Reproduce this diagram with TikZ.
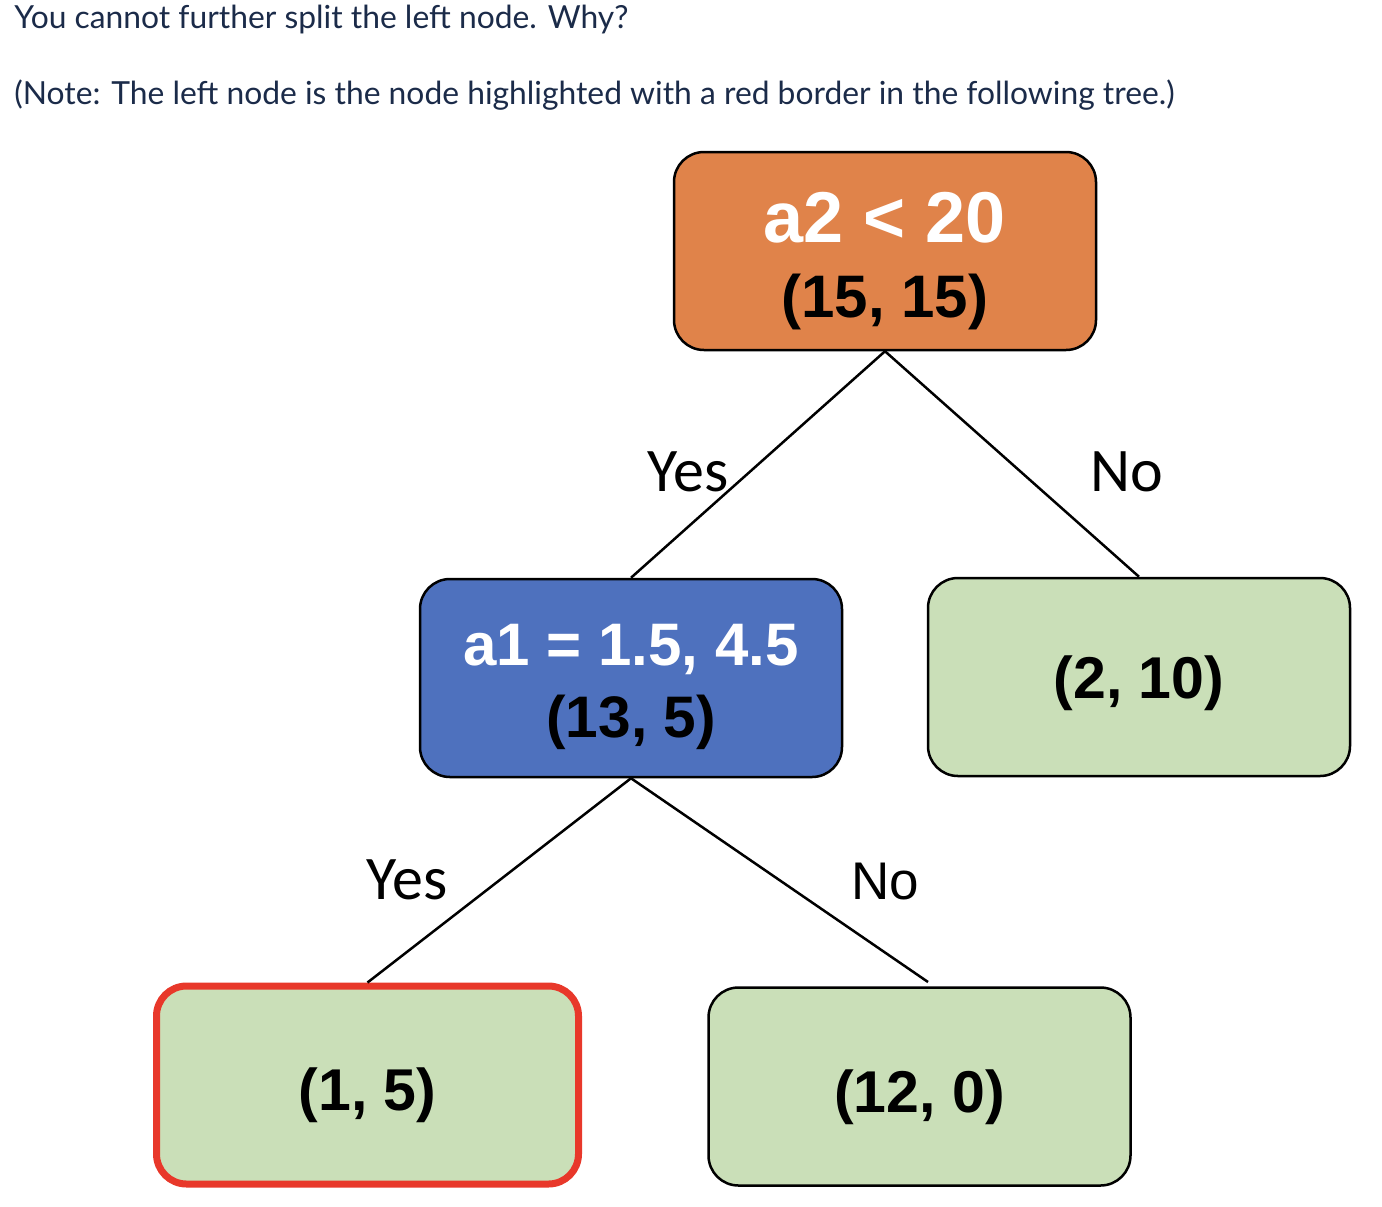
\documentclass[tikz,border=0pt]{standalone}
\usepackage{fontspec}
\setmainfont{Liberation Sans}
\newfontfamily\lblfont{Carlito}
\newfontfamily\notefont{Lato}
\definecolor{splitorange}{HTML}{E0834A}
\definecolor{splitblue}{HTML}{4E71BE}
\definecolor{leafgreen}{HTML}{CADFB8}
\definecolor{hilitered}{HTML}{E8382A}
\definecolor{notenavy}{HTML}{1B2B49}
\tikzset{
	box/.style={draw=black, line width=1.25pt, rounded corners=15pt,
		minimum width=211pt, minimum height=99pt, inner sep=0pt, align=center,
		font=\fontsize{29.5}{37}\selectfont\bfseries},
	split/.style={box, text height=#1},
	leaf/.style={box, fill=leafgreen, text height=#1},
	ans/.style={font=\lblfont\fontsize{31}{31}\selectfont},
	note/.style={anchor=base west, inner sep=0pt, text=notenavy,
		font=\notefont\fontsize{15.9}{18}\selectfont},
	branch/.style={line width=1.25pt}
}
\begin{document}
\begin{tikzpicture}[x=0.5pt, y=-0.5pt]
	\useasboundingbox (0,0) rectangle (1382,1206);

	\node[note] (why) at (14,28) {You cannot further split the left node. Why?};
	\node[note] (hint) at (14,104) {(Note: The left node is the node highlighted with a red border in the following tree.)};

	\node[split=73pt, fill=splitorange, font=\fontsize{30}{37.5}\selectfont\bfseries] (a2) at (885,251)
		{{\color{white}\fontsize{36}{37.5}\selectfont a2 < 20}\\(15, 15)};
	\node[split=66pt, fill=splitblue, font=\fontsize{29.3}{36}\selectfont\bfseries] (a1) at (631,678)
		{{\color{white}\fontsize{30}{36}\selectfont a1 = 1.5, 4.5}\\(13, 5)};
	\node[leaf=28pt] (r) at (1139,677) {(2, 10)};
	\node[leaf=31.5pt, draw=hilitered, line width=3.5pt] (ll) at (367.5,1085) {(1, 5)};
	\node[leaf=32pt] (lr) at (919.5,1086.5) {(12, 0)};
	\coordinate (lrtop) at (928,982);

	\draw[branch] (a2.south) -- (a1.north);
	\draw[branch] (a2.south) -- (r.north);
	\draw[branch] (a1.south) -- (ll.north);
	\draw[branch] (a1.south) -- (lrtop);

	\node[ans] (y1) at (688,472) {Yes};
	\node[ans] (n1) at (1127,472) {No};
	\node[ans] (y2) at (407,880) {Yes};
	\node[ans, font=\fontsize{26.5}{26.5}\selectfont] (n2) at (885,882) {No};
\end{tikzpicture}
\end{document}
